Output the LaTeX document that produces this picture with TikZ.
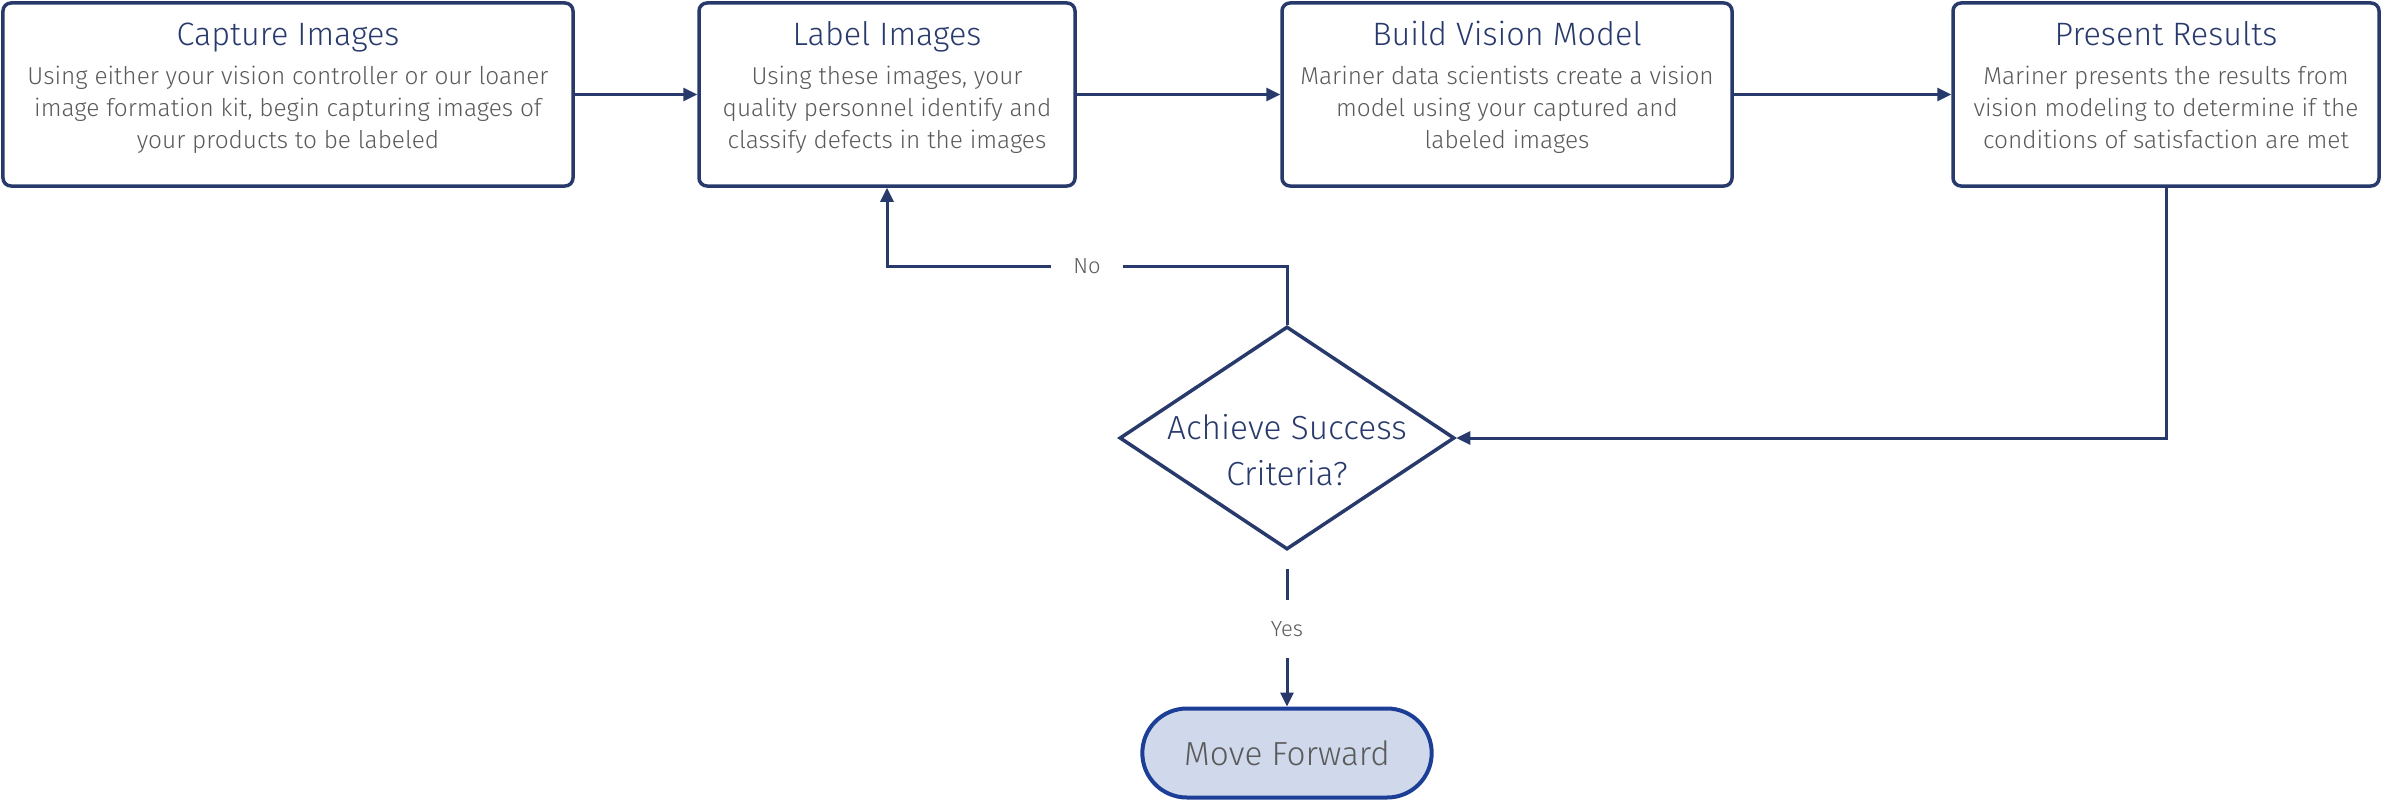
\documentclass[tikz,border=0pt]{standalone}
\usepackage{fontspec}
\setmainfont{Fira Sans}[UprightFont={* Light}]
\usetikzlibrary{arrows.meta}
\usetikzlibrary{shapes.geometric, shapes.misc}
\definecolor{navy}{RGB}{40, 58, 108}
\definecolor{bodygray}{RGB}{90, 90, 90}
\definecolor{pillblue}{RGB}{28, 62, 150}
\definecolor{pillfill}{RGB}{208, 217, 236}

\tikzset{
	stepbox/.style={draw=navy, line width=3.5bp, rounded corners=8bp, minimum height=183bp, inner sep=0pt},
	steptitle/.style={text=navy, font=\fontsize{32.5}{38}\selectfont, anchor=base, inner sep=0pt},
	stepbody/.style={text=bodygray, font=\fontsize{24.5}{32}\selectfont, align=center, anchor=north, inner sep=0pt},
	flow/.style={draw=navy, line width=3bp, -{Triangle[length=14bp,width=13bp]}},
	flowlabel/.style={text=bodygray, font=\fontsize{22}{26}\selectfont, fill=white, inner xsep=22bp, inner ysep=21bp},
}

\begin{document}
\begin{tikzpicture}[x=1bp, y=-1bp]

	\useasboundingbox (0,0) rectangle (2382,799);

	% the four steps along the top
	\node[stepbox, minimum width=570bp] (capture) at (288,94.5) {};
	\node[stepbox, minimum width=376bp] (label) at (887,94.5) {};
	\node[stepbox, minimum width=450bp] (build) at (1507,94.5) {};
	\node[stepbox, minimum width=426bp] (present) at (2166,94.5) {};

	\node[steptitle] (capture-title) at (288,46) {Capture Images};
	\node[stepbody] (capture-body) at (288,66) {Using either your vision controller or our loaner\\image formation kit, begin capturing images of\\your products to be labeled};

	\node[steptitle] (label-title) at (887,46) {Label Images};
	\node[stepbody] (label-body) at (887,66) {Using these images, your\\quality personnel identify and\\classify defects in the images};

	\node[steptitle] (build-title) at (1507,46) {Build Vision Model};
	\node[stepbody] (build-body) at (1507,66) {Mariner data scientists create a vision\\model using your captured and\\labeled images};

	\node[steptitle] (present-title) at (2166,46) {Present Results};
	\node[stepbody] (present-body) at (2166,66) {Mariner presents the results from\\vision modeling to determine if the\\conditions of satisfaction are met};

	% decision and end point
	\node[diamond, draw=navy, line width=3.5bp, minimum width=335bp, minimum height=223bp, inner sep=0pt] (decision) at (1287,438) {};
	\node[text=navy, font=\fontsize{33.5}{46}\selectfont, align=center] (decision-text) at ([yshift=-12bp]decision.center) {Achieve Success\\Criteria?};
	\node[rounded rectangle, draw=pillblue, fill=pillfill, line width=4bp, minimum width=296bp, minimum height=89bp,
		text=bodygray, font=\fontsize{33.5}{40}\selectfont] (forward) at (1287,753) {Move Forward};

	\draw[flow] (capture.east) -- (label.west);
	\draw[flow] (label.east) -- (build.west);
	\draw[flow] (build.east) -- (present.west);

	\draw[flow] (present.south) |- (decision.east);

	\coordinate (nobend) at (1287,266);
	\draw[flow] (decision.north) -- (nobend) -| (label.south) node[flowlabel, pos=0.25] (no) {No};

	\draw[flow, shorten <=18bp] (decision.south) -- (forward.north) node[flowlabel, midway] (yes) {Yes};

\end{tikzpicture}
\end{document}
